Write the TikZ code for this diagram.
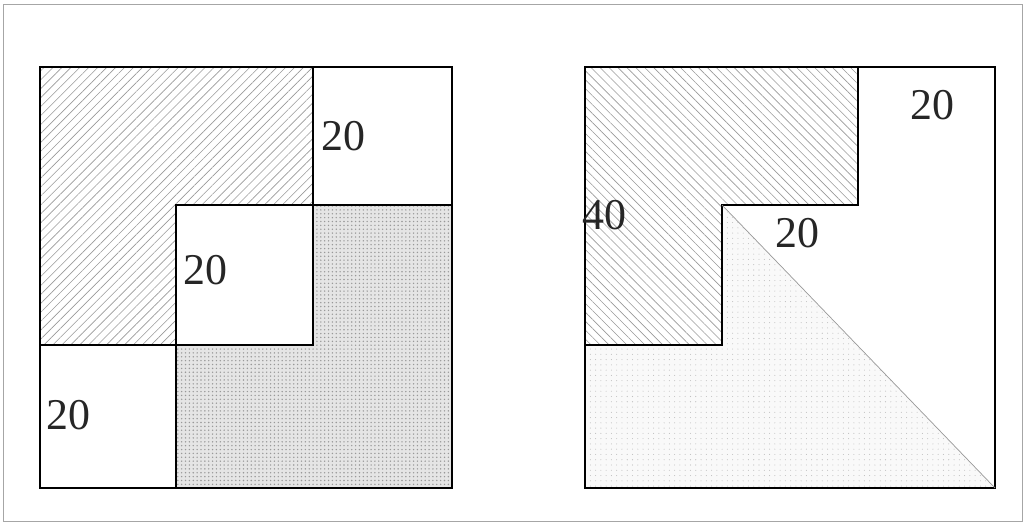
\documentclass[tikz,border=0pt]{standalone}
\usepackage{fontspec}
\setmainfont{Liberation Serif}
\usetikzlibrary{patterns.meta}
\tikzset{
  hatchne/.style={pattern={Lines[angle=45,distance=3.6pt,line width=0.35pt]},pattern color=gray!80},
  hatchnw/.style={pattern={Lines[angle=-45,distance=3.6pt,line width=0.35pt]},pattern color=gray!80},
  dotdark/.style={preaction={fill=gray!20},pattern={Dots[radius=0.45pt,distance=2.2pt]},pattern color=gray!80},
  dotlight/.style={preaction={fill=gray!5},pattern={Dots[radius=0.3pt,distance=3pt]},pattern color=gray!50},
  numlabel/.style={font=\fontsize{25}{30}\selectfont,text=black!85,inner sep=0pt}
}
\begin{document}
\begin{tikzpicture}[x=0.02cm,y=-0.02cm]
  \useasboundingbox (0,0) rectangle (1025,523);
  %% outer frame
  \draw[gray!70, line width=0.5pt] (3,4) rectangle (1022,521);

  %% left square
  \fill[hatchne] (40,67) -- (313,67) -- (313,205) -- (176,205) -- (176,345) -- (40,345) -- cycle;
  \fill[dotdark] (313,205) -- (452,205) -- (452,488) -- (176,488) -- (176,345) -- (313,345) -- cycle;
  \draw[line width=0.6pt] (40,67) rectangle (452,488);
  \draw[line width=0.6pt] (313,67) -- (313,205) -- (452,205);
  \draw[line width=0.6pt] (176,205) rectangle (313,345);
  \draw[line width=0.6pt] (40,345) -- (176,345) -- (176,488);

  %% right square
  \fill[hatchnw] (585,67) -- (858,67) -- (858,205) -- (722,205) -- (722,345) -- (585,345) -- cycle;
  \fill[dotlight] (585,345) -- (722,345) -- (722,205) -- (995,488) -- (585,488) -- cycle;
  \draw[line width=0.6pt] (585,67) rectangle (995,488);
  \draw[line width=0.6pt] (858,67) -- (858,205) -- (722,205) -- (722,345) -- (585,345);
  \draw[gray!80, line width=0.4pt] (722,205) -- (995,488);

  %% labels left
  \node[numlabel] (ltop) at (343,136) {20};
  \node[numlabel] (lmid) at (205,270) {20};
  \node[numlabel] (lbot) at (68,415) {20};

  %% labels right
  \node[numlabel] (rforty) at (604,215) {40};
  \node[numlabel] (rmid) at (797,233) {20};
  \node[numlabel] (rtop) at (932,105) {20};
\end{tikzpicture}
\end{document}
